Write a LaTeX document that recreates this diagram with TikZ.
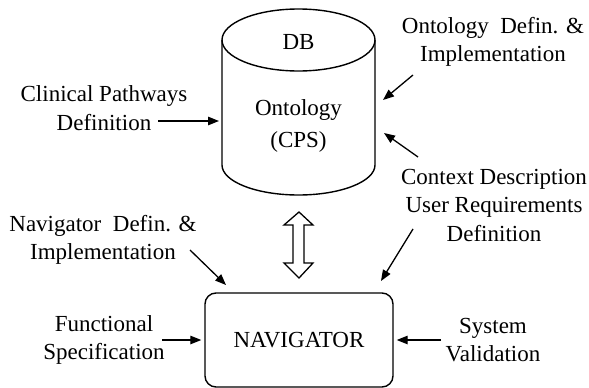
\documentclass[tikz,border=0pt]{standalone}
\usepackage{fontspec}
\setmainfont{Liberation Serif}
\usepackage{tikz}
\usetikzlibrary{arrows.meta}
\tikzset{
  lbl/.style={align=center, inner sep=0pt, font=\fontsize{23}{28.5}\selectfont},
  arr/.style={line width=1.3pt, -{Triangle[length=11pt,width=8.5pt]}},
}

\begin{document}
\begin{tikzpicture}[x=1pt, y=-1pt, line width=1.4pt]%
\useasboundingbox (0,0) rectangle (589,388);%
% database cylinder
\draw (222,40) -- (222,165) arc[start angle=180, end angle=0, x radius=76.5, y radius=30] -- (375,40);%
\draw (298.5,40) ellipse[x radius=76.5, y radius=31];%
\node[lbl] (db) at (298.5,42) {DB};%
\node[lbl, font=\fontsize{23}{31.5}\selectfont] (onto) at (298.5,126) {Ontology\\(CPS)};%
% navigator box
\node[draw, rounded corners=11pt, minimum width=188pt, minimum height=94pt, lbl] (nav) at (299,340) {NAVIGATOR};%
% double arrow between them
\draw[line width=1.3pt] (299,212) -- (313,225) -- (304,225) -- (304,263) -- (313,263) -- (299,278) -- (284,263) -- (293,263) -- (293,225) -- (284,225) -- cycle;%
% labels
\node[lbl] (clin) at (104,108) {Clinical Pathways\\Definition};%
\node[lbl] (ontdef) at (493,42) {Ontology\ \ Defin. \&\\Implementation};%
\node[lbl] (ctx) at (494,205) {Context Description\\User Requirements\\Definition};%
\node[lbl] (navdef) at (103,240) {Navigator\ \ Defin. \&\\Implementation};%
\node[lbl] (func) at (104,340) {Functional\\Specification};%
\node[lbl] (sysval) at (493,340) {System\\Validation};%
% arrow ends
\coordinate (c1) at (158,121);\coordinate (c1e) at (219,121);%
\coordinate (c2) at (413,75);\coordinate (c2e) at (383,100);%
\coordinate (c3) at (418,157);\coordinate (c3e) at (384,133);%
\coordinate (c4) at (413,229);\coordinate (c4e) at (381,281);%
\coordinate (c5) at (190,250);\coordinate (c5e) at (226,285);%
\coordinate (c6) at (162,340);\coordinate (c6e) at (nav.west);%
\coordinate (c7) at (441,340);\coordinate (c7e) at (nav.east);%
\draw[arr] (c1) -- (c1e);%
\draw[arr] (c2) -- (c2e);%
\draw[arr] (c3) -- (c3e);%
\draw[arr] (c4) -- (c4e);%
\draw[arr] (c5) -- (c5e);%
\draw[arr] (c6) -- ([xshift=-3pt]c6e);%
\draw[arr] (c7) -- ([xshift=3pt]c7e);%
\end{tikzpicture}
\end{document}
